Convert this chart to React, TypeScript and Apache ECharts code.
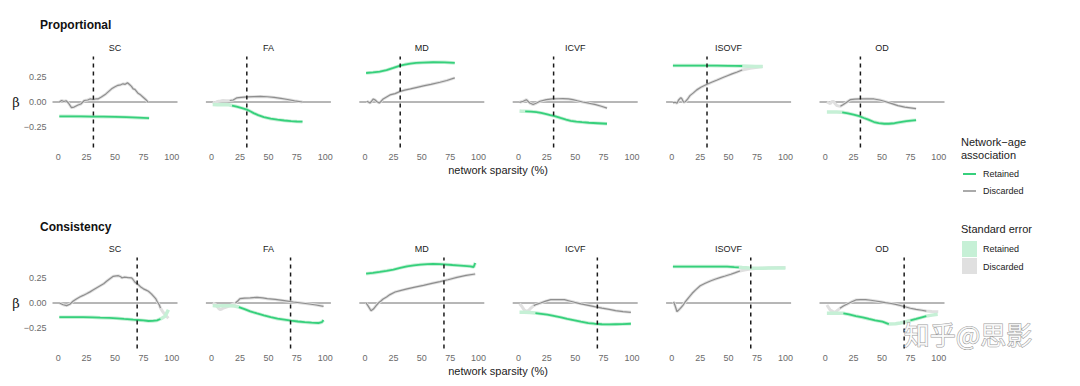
import React, { useEffect, useRef } from "react";
import * as echarts from "echarts";

// ---------- DATA ----------
const metrics = ["SC", "FA", "MD", "ICVF", "ISOVF", "OD"];
const rowTitles = ["Proportional", "Consistency"];
const thresholds = [31, 69.5];
const xTicks = [0, 25, 50, 75, 100];
const yTicks = [-0.25, 0, 0.25];

type Pt = [number, number];

// Proportional
const pSCret: Pt[] = [[1,-0.142],[10,-0.142],[20,-0.143],[30,-0.144],[40,-0.145],[50,-0.147],[60,-0.15],[70,-0.155],[80,-0.16]];
const pSCdis: Pt[] = [[1,0],[3,0.015],[5,0.005],[7,0.012],[9,-0.01],[11.7,-0.055],[14,-0.05],[17.5,-0.03],[20,-0.02],[23,0.015],[26,0.02],[28,0.03],[30.7,0.025],[33,0.03],[35,0.03],[38,0.05],[42,0.08],[45,0.11],[47,0.13],[50,0.15],[52.6,0.165],[55,0.17],[57,0.18],[59,0.175],[61,0.19],[63,0.17],[64.5,0.155],[66,0.13],[67.5,0.125],[70,0.09],[72,0.075],[74.5,0.05],[77,0.025],[79,0]];
const pFAret: Pt[] = [[1,-0.025],[5,-0.027],[10,-0.025],[15,-0.028],[18,-0.035],[22,-0.045],[26,-0.058],[31,-0.075],[34,-0.092],[37,-0.11],[41,-0.13],[46,-0.15],[52,-0.165],[58,-0.175],[64,-0.183],[70,-0.19],[75,-0.193],[80,-0.195]];
const pFAdis: Pt[] = [[1,0],[3,-0.01],[5,0.005],[8,0.01],[10,0.015],[13,0.012],[16,0.015],[19,0.02],[22,0.04],[26,0.045],[31,0.05],[37,0.053],[43,0.055],[49,0.052],[55,0.045],[61,0.035],[67,0.025],[73,0.012],[80,0]];
const pMDret: Pt[] = [[1,0.287],[7,0.292],[13,0.3],[19,0.315],[25,0.337],[31,0.36],[35,0.37],[40,0.38],[45,0.386],[51,0.39],[60,0.393],[70,0.392],[79,0.386]];
const pMDdis: Pt[] = [[1.5,0.007],[3,0],[4.4,-0.01],[6,0.01],[7.4,0.03],[9,0.02],[10.3,0.005],[12.6,-0.01],[14,0.005],[16,0.03],[19,0.05],[22,0.07],[26.5,0.083],[31,0.105],[35,0.118],[40,0.13],[45,0.143],[51.5,0.16],[58,0.175],[66,0.195],[72,0.213],[79,0.238]];
const pICVFret: Pt[] = [[1,-0.09],[3,-0.092],[6,-0.092],[11,-0.095],[16,-0.1],[20,-0.108],[24.6,-0.12],[28,-0.13],[32,-0.14],[37,-0.158],[42,-0.175],[46,-0.186],[51,-0.195],[56,-0.2],[62,-0.205],[70,-0.21],[78,-0.215]];
const pICVFdis: Pt[] = [[1,-0.003],[4.3,0.007],[7,0.023],[10,-0.01],[13,-0.025],[16,-0.01],[19,0.007],[24.6,0.023],[30,0.03],[35,0.032],[39,0.033],[44,0.03],[48,0.023],[52,0.012],[56.5,0],[62,-0.012],[68,-0.026],[73,-0.042],[78,-0.06]];
const pISOVFret: Pt[] = [[1,0.36],[10,0.36],[20,0.36],[30,0.36],[40,0.359],[50,0.358],[56,0.357],[62,0.356],[68,0.354],[74,0.352],[80,0.35]];
const pISOVFdis: Pt[] = [[1,-0.007],[3,-0.003],[4.6,-0.013],[6,0.02],[8,0.043],[9,0.03],[10.4,-0.003],[12,0.003],[14,0.03],[16,0.063],[19,0.09],[22,0.12],[26,0.148],[31,0.175],[35,0.195],[40,0.218],[45,0.242],[49,0.26],[53,0.278],[57,0.294],[62,0.317],[66,0.327],[69,0.333],[74,0.342],[80,0.35]];
const pODret: Pt[] = [[1.5,-0.1],[5,-0.1],[10,-0.1],[15,-0.102],[20,-0.112],[25,-0.125],[30,-0.14],[34,-0.158],[38,-0.175],[43,-0.198],[47,-0.208],[52,-0.215],[56,-0.215],[61,-0.21],[66,-0.2],[71.5,-0.19],[76,-0.184],[80,-0.18]];
const pODdis: Pt[] = [[1.5,0],[4.5,-0.016],[6,0.005],[7.4,0.005],[9,-0.02],[10.4,-0.036],[13.4,-0.043],[16,-0.025],[18,-0.01],[22,0.023],[26,0.028],[31,0.03],[37,0.032],[43,0.03],[48,0.02],[52,0.007],[58,-0.013],[64,-0.036],[70,-0.05],[75,-0.058],[80,-0.066]];

// Consistency
const cSCret: Pt[] = [[1,-0.14],[10,-0.14],[22,-0.14],[30,-0.142],[37,-0.145],[45,-0.148],[51.5,-0.152],[58,-0.158],[66,-0.165],[70,-0.168],[75,-0.172],[79.4,-0.178],[83,-0.177],[87,-0.172],[90,-0.158],[92,-0.145],[94,-0.132],[97,-0.066]];
const cSCdis: Pt[] = [[1,0],[4.4,-0.017],[7.4,-0.026],[10.3,-0.012],[13,0.017],[16,0.04],[19,0.06],[22,0.075],[25,0.092],[28,0.11],[31,0.13],[34,0.15],[37,0.17],[40,0.19],[42.6,0.215],[45.5,0.24],[48.5,0.264],[51,0.268],[53,0.27],[55,0.26],[56,0.248],[58,0.255],[60,0.254],[62,0.25],[64.7,0.248],[66,0.23],[67.6,0.205],[70.6,0.18],[73,0.155],[75,0.14],[77,0.13],[79.4,0.116],[82,0.09],[84,0.066],[86,0.04],[87,0.017],[89,-0.02],[90,-0.05],[92,-0.085],[94,-0.115],[97,-0.15]];
const cFAret: Pt[] = [[1,-0.026],[5,-0.03],[10,-0.028],[15,-0.027],[20,-0.03],[24,-0.04],[29,-0.06],[34,-0.083],[40,-0.103],[46,-0.122],[52,-0.14],[58,-0.155],[64,-0.165],[70,-0.175],[76,-0.183],[82,-0.19],[88,-0.195],[94,-0.198],[97,-0.19],[98.5,-0.17]];
const cFAdis: Pt[] = [[1,0],[3,-0.01],[4.5,-0.026],[6,-0.05],[7.5,-0.066],[9,-0.06],[10.4,-0.05],[13,-0.04],[16.4,-0.026],[19,-0.01],[21,0],[23,0.02],[25,0.043],[29,0.048],[34,0.05],[40,0.056],[45,0.05],[49,0.043],[56,0.035],[64,0.023],[72,0.01],[79,0],[86,-0.01],[92,-0.02],[98.5,-0.033]];
const cMDret: Pt[] = [[1,0.29],[7,0.297],[13,0.307],[19,0.318],[25,0.33],[31,0.347],[37,0.363],[43,0.373],[49,0.38],[55,0.384],[60,0.386],[66,0.384],[72,0.38],[77,0.376],[81,0.373],[87,0.368],[92.6,0.363],[95.6,0.356],[97,0.396]];
const cMDdis: Pt[] = [[1,0],[3,-0.033],[5.3,-0.076],[7.4,-0.06],[9.5,-0.03],[11.8,0],[14,0.02],[16,0.04],[19,0.06],[22,0.083],[26.5,0.109],[31,0.122],[37,0.139],[44,0.157],[51.5,0.175],[58,0.192],[66,0.211],[73,0.23],[81,0.254],[89,0.273],[97,0.287]];
const cICVFret: Pt[] = [[1,-0.092],[5,-0.092],[10,-0.095],[15,-0.1],[20,-0.107],[25.5,-0.115],[31,-0.127],[37.5,-0.142],[43,-0.157],[49.5,-0.172],[55,-0.185],[61.5,-0.198],[67,-0.205],[73.5,-0.21],[80,-0.212],[85.5,-0.21],[92,-0.208],[99,-0.205]];
const cICVFdis: Pt[] = [[1,-0.007],[3,-0.033],[6,-0.083],[9,-0.075],[11,-0.05],[13.5,-0.026],[16,-0.013],[19.5,0],[24,0.018],[28.5,0.033],[34,0.033],[40.5,0.033],[45,0.02],[49.5,0.007],[55,-0.008],[61.5,-0.023],[67,-0.036],[73.5,-0.05],[80,-0.063],[85.5,-0.076],[92,-0.085],[99,-0.092]];
const cISOVFret: Pt[] = [[1,0.36],[10,0.36],[20,0.36],[30,0.36],[40,0.36],[48.7,0.36],[55,0.355],[59,0.353],[62,0.35],[68,0.345],[75,0.343],[80,0.343],[85,0.345],[90,0.345],[96,0.345],[100,0.345]];
const cISOVFdis: Pt[] = [[1.6,0.013],[3,-0.03],[4.6,-0.086],[6,-0.07],[7.5,-0.053],[10,-0.02],[12,0.013],[15,0.055],[18,0.096],[21,0.13],[25,0.17],[29,0.193],[34,0.218],[38,0.235],[43,0.254],[47,0.267],[52,0.284],[56,0.3],[60,0.317],[64,0.327],[69,0.337],[74,0.34],[78,0.343],[85,0.346],[90,0.348],[96,0.35],[100,0.35]];
const cODret: Pt[] = [[1.5,-0.102],[5,-0.102],[10,-0.102],[16,-0.102],[21,-0.113],[27,-0.129],[33,-0.143],[38.6,-0.158],[44,-0.172],[50.4,-0.185],[56,-0.208],[62,-0.205],[66,-0.198],[71,-0.185],[75,-0.173],[80,-0.158],[85,-0.142],[89,-0.13],[94,-0.12],[99,-0.112]];
const cODdis: Pt[] = [[1.5,-0.02],[4.5,-0.07],[7,-0.085],[9,-0.092],[11,-0.07],[13,-0.053],[16,-0.03],[19,-0.013],[23,0.01],[27,0.03],[31,0.033],[35.6,0.033],[40,0.027],[44.5,0.02],[49,0.012],[53,0.003],[58,-0.005],[62,-0.013],[66,-0.025],[71,-0.04],[75,-0.052],[80,-0.063],[85,-0.072],[89,-0.08],[94,-0.083],[99.5,-0.086]];

const retained: Pt[][][] = [
  [pSCret, pFAret, pMDret, pICVFret, pISOVFret, pODret],
  [cSCret, cFAret, cMDret, cICVFret, cISOVFret, cODret],
];
const discarded: Pt[][][] = [
  [pSCdis, pFAdis, pMDdis, pICVFdis, pISOVFdis, pODdis],
  [cSCdis, cFAdis, cMDdis, cICVFdis, cISOVFdis, cODdis],
];
// x-ranges where the estimate line is drawn solid (elsewhere only its SE ribbon shows)
const retSolid: number[][][][] = [
  [[[0, 100]], [[18, 100]], [[0, 100]], [[6, 100]], [[0, 62]], [[15, 100]]],
  [[[0, 91]], [[22, 100]], [[0, 100]], [[14, 100]], [[0, 60]], [[14, 56], [75, 90]]],
];
const disSolid: number[][][][] = [
  [[[0, 100]], [[16, 100]], [[0, 100]], [[0, 100]], [[0, 62]], [[12, 100]]],
  [[[0, 90]], [[20, 100]], [[0, 100]], [[12, 100]], [[0, 62]], [[12, 90]]],
];

// ---------- STYLE ----------
const GREEN = "#36d07c";
const GREEN_LIGHT = "#c6f0d6";
const GREY = "#8e8e8e";
const GREY_LIGHT = "#e0e0e0";
const FONT = "Liberation Sans, Arial, sans-serif";
const LEFT0 = 52.5;
const STEP = 153.4;
const PW = 125;
const PH = 91;
const ROW_TOP = [56.5, 257.5];

function solidData(pts: Pt[], ranges: number[][]) {
  return pts.map((p) =>
    ranges.some((r) => p[0] >= r[0] && p[0] <= r[1]) ? p : [p[0], null]
  );
}

export default function App() {
  const ref = useRef<HTMLDivElement>(null);
  useEffect(() => {
    document.body.style.margin = "0";
    const chart = echarts.init(ref.current!, null, { renderer: "svg" });
    const grid: any[] = [];
    const xAxis: any[] = [];
    const yAxis: any[] = [];
    const series: any[] = [];
    const graphic: any[] = [];

    for (let r = 0; r < 2; r++) {
      for (let c = 0; c < 6; c++) {
        const i = r * 6 + c;
        const left = LEFT0 + STEP * c;
        grid.push({ left, top: ROW_TOP[r], width: PW, height: PH });
        xAxis.push({
          type: "value", gridIndex: i, min: -5, max: 105,
          axisLine: { show: false }, axisTick: { show: false }, splitLine: { show: false },
          axisLabel: { customValues: xTicks, color: "#6b6b6b", fontSize: 9, fontFamily: FONT, margin: 5 },
        });
        yAxis.push({
          type: "value", gridIndex: i, min: -0.45, max: 0.45,
          axisLine: { show: false }, axisTick: { show: false }, splitLine: { show: false },
          axisLabel: {
            show: c === 0, customValues: yTicks, color: "#6b6b6b", fontSize: 9, fontFamily: FONT, margin: 6,
            formatter: (v: number) => v.toFixed(2).replace("-", "\u2212"),
          },
        });
        const base = { type: "line", xAxisIndex: i, yAxisIndex: i, showSymbol: false, silent: true, animation: false };
        series.push({ ...base, data: [[-5, 0], [105, 0]], lineStyle: { color: "#6e6e6e", width: 1 }, z: 1 });
        series.push({ ...base, data: discarded[r][c], lineStyle: { color: GREY_LIGHT, width: 3 }, z: 2 });
        series.push({ ...base, data: retained[r][c], lineStyle: { color: GREEN_LIGHT, width: 3.5 }, z: 2 });
        series.push({ ...base, data: solidData(discarded[r][c], disSolid[r][c]), connectNulls: false, lineStyle: { color: GREY, width: 1.2 }, z: 3 });
        series.push({ ...base, data: solidData(retained[r][c], retSolid[r][c]), connectNulls: false, lineStyle: { color: GREEN, width: 1.8 }, z: 4 });
        series.push({ ...base, data: [[thresholds[r], -0.45], [thresholds[r], 0.45]], lineStyle: { color: "#1a1a1a", width: 1.5, type: [4, 4] }, z: 5 });

        graphic.push({
          type: "text", x: left + PW * (55 / 110), y: ROW_TOP[r] - 9,
          style: { text: metrics[c], fontSize: 9, fontFamily: FONT, fill: "#1a1a1a", align: "center", verticalAlign: "middle" },
        });
      }
      graphic.push({
        type: "text", x: 40, y: r === 0 ? 25 : 227,
        style: { text: rowTitles[r], fontSize: 12, fontWeight: "bold", fontFamily: FONT, fill: "#111", align: "left", verticalAlign: "middle" },
      });
      graphic.push({
        type: "text", x: 16, y: ROW_TOP[r] + PH / 2,
        style: { text: "\u03b2", fontSize: 13, fontFamily: "DejaVu Serif, serif", fill: "#222", align: "center", verticalAlign: "middle" },
      });
      graphic.push({
        type: "text", x: 498, y: r === 0 ? 170 : 371,
        style: { text: "network sparsity (%)", fontSize: 11, fontFamily: FONT, fill: "#222", align: "center", verticalAlign: "middle" },
      });
    }

    // legends
    const lx = 961;
    graphic.push(
      { type: "text", x: lx, y: 142, style: { text: "Network\u2212age", fontSize: 11, fontFamily: FONT, fill: "#222", align: "left", verticalAlign: "middle" } },
      { type: "text", x: lx, y: 155, style: { text: "association", fontSize: 11, fontFamily: FONT, fill: "#222", align: "left", verticalAlign: "middle" } },
      { type: "line", shape: { x1: 963, y1: 174, x2: 976, y2: 174 }, style: { stroke: GREEN, lineWidth: 2 } },
      { type: "text", x: 983, y: 174, style: { text: "Retained", fontSize: 9, fontFamily: FONT, fill: "#222", align: "left", verticalAlign: "middle" } },
      { type: "line", shape: { x1: 963, y1: 191, x2: 976, y2: 191 }, style: { stroke: GREY, lineWidth: 1.5 } },
      { type: "text", x: 983, y: 191, style: { text: "Discarded", fontSize: 9, fontFamily: FONT, fill: "#222", align: "left", verticalAlign: "middle" } },
      { type: "text", x: lx, y: 229, style: { text: "Standard error", fontSize: 11, fontFamily: FONT, fill: "#222", align: "left", verticalAlign: "middle" } },
      { type: "rect", shape: { x: 962, y: 241, width: 15, height: 16 }, style: { fill: GREEN_LIGHT } },
      { type: "text", x: 983, y: 249, style: { text: "Retained", fontSize: 9, fontFamily: FONT, fill: "#222", align: "left", verticalAlign: "middle" } },
      { type: "rect", shape: { x: 962, y: 258, width: 15, height: 16 }, style: { fill: GREY_LIGHT } },
      { type: "text", x: 983, y: 267, style: { text: "Discarded", fontSize: 9, fontFamily: FONT, fill: "#222", align: "left", verticalAlign: "middle" } },
      { type: "text", x: 968, y: 333, z: 100, style: { text: "知乎@思影", fontSize: 26, fontFamily: "Noto Sans CJK SC", fill: "rgba(255,255,255,0.85)", stroke: "#9a9a9a", lineWidth: 1, align: "center", verticalAlign: "middle" } }
    );

    chart.setOption({ animation: false, backgroundColor: "#fff", grid, xAxis, yAxis, series, graphic });
    return () => chart.dispose();
  }, []);
  return <div ref={ref} style={{ position: "absolute", left: 0, top: 0, width: 1080, height: 386 }} />;
}
